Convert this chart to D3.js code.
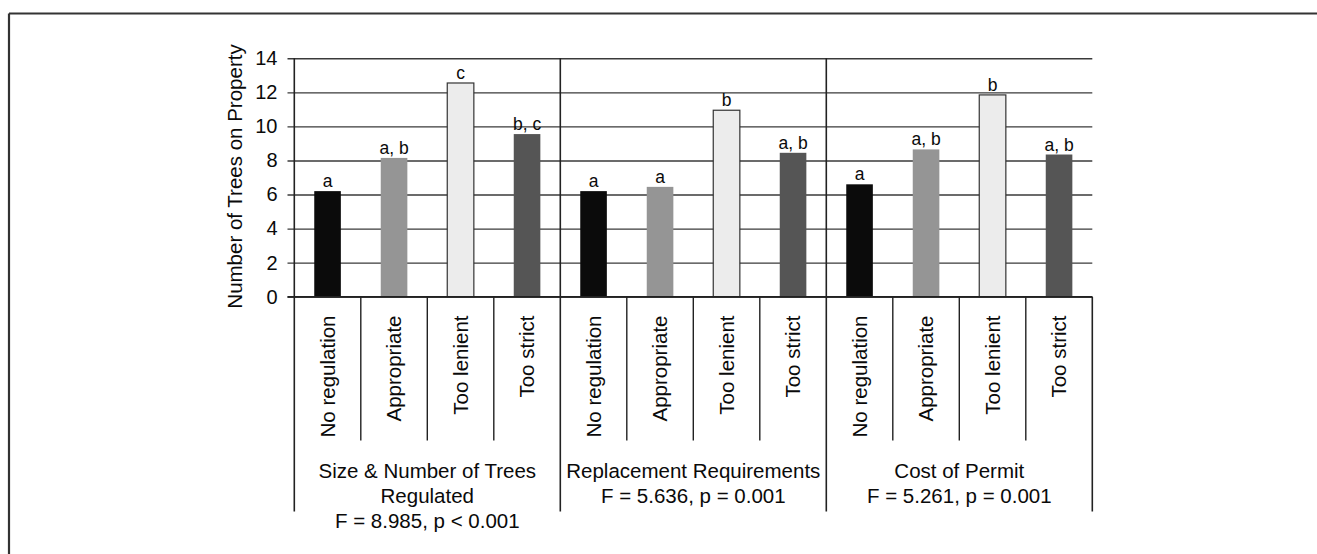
<!DOCTYPE html>
<html>
<head>
<meta charset="utf-8">
<script src="https://cdn.jsdelivr.net/npm/d3@7"></script>
<style>
  html, body { margin: 0; padding: 0; background: #fff; }
  svg text { font-family: "Liberation Sans", Arial, Helvetica, sans-serif; fill: #0a0a0a; }
</style>
</head>
<body>
<svg id="chart" width="1317" height="554"></svg>
<script>
// ---------- data ----------
const groups = ["Size & Number of Trees Regulated", "Replacement Requirements", "Cost of Permit"];
const groupLabelLines = [
  ["Size & Number of Trees", "Regulated", "F = 8.985, p < 0.001"],
  ["Replacement Requirements", "F = 5.636, p = 0.001"],
  ["Cost of Permit", "F = 5.261, p = 0.001"]
];
const categories = ["No regulation", "Appropriate", "Too lenient", "Too strict"];
const sizeNumberValues = [6.2, 8.15, 12.55, 9.55];
const replacementValues = [6.2, 6.45, 10.95, 8.45];
const costValues = [6.6, 8.65, 11.85, 8.35];
const sizeNumberLetters = ["a", "a, b", "c", "b, c"];
const replacementLetters = ["a", "a", "b", "a, b"];
const costLetters = ["a", "a, b", "b", "a, b"];
const yTicks = [0, 2, 4, 6, 8, 10, 12, 14];
const yTitle = "Number of Trees on Property";
const barColors = ["#0b0b0b", "#959595", "#ececec", "#555555"];

const groupValues = [sizeNumberValues, replacementValues, costValues];
const groupLetters = [sizeNumberLetters, replacementLetters, costLetters];

// flat table built from arrays
const rows = [];
groups.forEach((g, gi) => {
  categories.forEach((c, ci) => {
    rows.push({ key: gi + "-" + ci, group: gi, cat: ci, label: c,
                value: groupValues[gi][ci], letter: groupLetters[gi][ci] });
  });
});

// ---------- layout ----------
const svg = d3.select("#chart");
const plotLeft = 294.3, plotRight = 1092.3, plotTop = 58.3, zeroY = 296.7;
const catBottom = 440.5, groupBottom = 511.5;

const x = d3.scaleBand().domain(rows.map(d => d.key)).range([plotLeft, plotRight]).paddingInner(0).paddingOuter(0);
const y = d3.scaleLinear().domain([0, 14]).range([zeroY, plotTop]);
const gx = d3.scaleBand().domain(d3.range(groups.length)).range([plotLeft, plotRight]);

// frame (top & left lines)
svg.append("line").attr("x1", 9).attr("x2", 1317).attr("y1", 13.5).attr("y2", 13.5)
  .attr("stroke", "#333").attr("stroke-width", 2.2);
svg.append("line").attr("x1", 9).attr("x2", 9).attr("y1", 13.5).attr("y2", 554)
  .attr("stroke", "#333").attr("stroke-width", 2.2);

// gridlines + tick labels via axis
const tickLeft = 287.5;
const yAxis = d3.axisLeft(y).tickValues(yTicks).tickSize(-(plotRight - tickLeft)).tickPadding(10)
  .tickFormat(d3.format("d"));
const ga = svg.append("g").attr("transform", `translate(${tickLeft},0)`).call(yAxis);
ga.select(".domain").remove();
ga.selectAll(".tick line").attr("stroke", "#3a3a3a").attr("stroke-width", 1.4);
ga.selectAll(".tick text").attr("font-size", 20).attr("fill", "#0a0a0a")
  .style("font-family", '"Liberation Sans", Arial, sans-serif');

// bars
const bw = x.bandwidth() * 0.4;
svg.append("g").selectAll("rect").data(rows).join("rect")
  .attr("x", d => x(d.key) + (x.bandwidth() - bw) / 2)
  .attr("y", d => y(d.value))
  .attr("width", bw)
  .attr("height", d => y(0) - y(d.value))
  .attr("fill", d => barColors[d.cat])
  .attr("stroke", d => d.cat === 2 ? "#333" : "none")
  .attr("stroke-width", 1.2);

// significance letters
svg.append("g").selectAll("text").data(rows).join("text")
  .attr("x", d => x(d.key) + x.bandwidth() / 2)
  .attr("y", d => y(d.value) - 4)
  .attr("text-anchor", "middle")
  .attr("font-size", 17.5)
  .text(d => d.letter);

// axis vertical line and baseline
svg.append("line").attr("x1", plotLeft).attr("x2", plotLeft).attr("y1", plotTop).attr("y2", groupBottom)
  .attr("stroke", "#222").attr("stroke-width", 1.6);
svg.append("line").attr("x1", tickLeft).attr("x2", plotRight).attr("y1", zeroY).attr("y2", zeroY)
  .attr("stroke", "#222").attr("stroke-width", 1.6);

// group dividers
svg.append("g").selectAll("line").data(d3.range(groups.length)).join("line")
  .attr("x1", gi => gx(gi) + gx.bandwidth()).attr("x2", gi => gx(gi) + gx.bandwidth())
  .attr("y1", gi => gi === groups.length - 1 ? zeroY : plotTop).attr("y2", groupBottom)
  .attr("stroke", "#222").attr("stroke-width", 1.6);

// category separators
svg.append("g").selectAll("line").data(rows.filter(d => d.cat !== categories.length - 1)).join("line")
  .attr("x1", d => x(d.key) + x.bandwidth()).attr("x2", d => x(d.key) + x.bandwidth())
  .attr("y1", zeroY).attr("y2", catBottom)
  .attr("stroke", "#222").attr("stroke-width", 1.4);

// category labels (rotated)
svg.append("g").selectAll("text").data(rows).join("text")
  .attr("transform", d => `translate(${x(d.key) + x.bandwidth() / 2},${315.5}) rotate(-90)`)
  .attr("text-anchor", "end")
  .attr("dy", "0.35em")
  .attr("font-size", 20.5)
  .text(d => d.label);

// group labels
groupLabelLines.forEach((lines, gi) => {
  const t = svg.append("text").attr("text-anchor", "middle").attr("font-size", 20.5)
    .attr("x", gx(gi) + gx.bandwidth() / 2);
  lines.forEach((ln, li) => {
    t.append("tspan").attr("x", gx(gi) + gx.bandwidth() / 2).attr("y", 478 + li * 25).text(ln);
  });
});

// y title
svg.append("text")
  .attr("transform", `translate(241.5,${(plotTop + zeroY) / 2 - 1}) rotate(-90)`)
  .attr("text-anchor", "middle")
  .attr("font-size", 20.5)
  .text(yTitle);
</script>
</body>
</html>
